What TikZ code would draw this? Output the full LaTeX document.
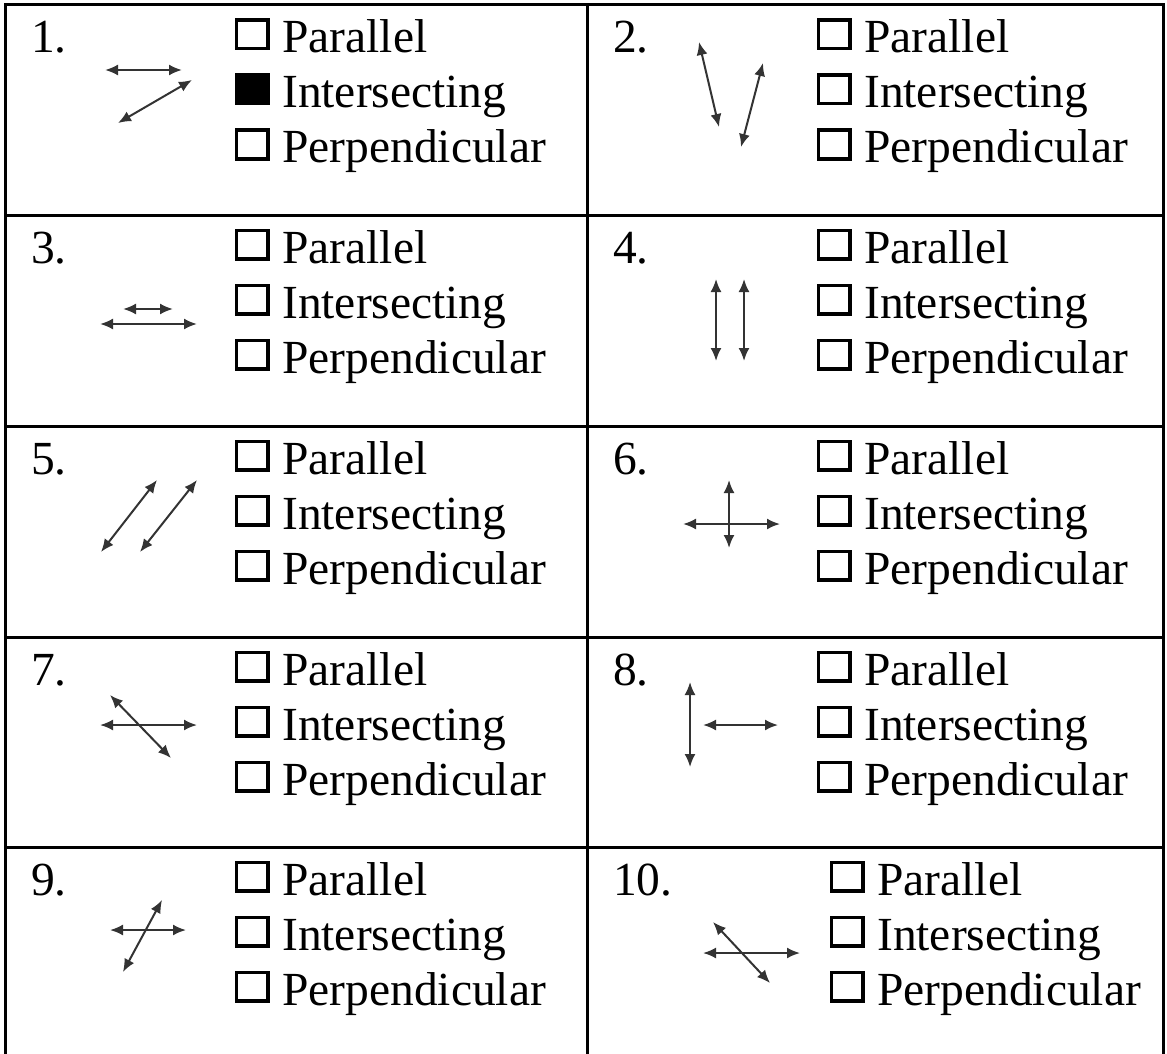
\documentclass[tikz,border=0pt]{standalone}
\usepackage{fontspec}
\setmainfont{Liberation Serif}
\usetikzlibrary{arrows.meta}

\begin{document}
\begin{tikzpicture}[x=1pt,y=-1pt,>={Latex[length=13pt,width=11pt]},
  grid/.style={line width=3pt,black},
  tick/.style={draw,line width=3.5pt,minimum width=31.5pt,minimum height=28.5pt,inner sep=0pt,anchor=south west},
  opt/.style={anchor=base west,inner sep=0pt,font=\fontsize{47.5}{55}\selectfont},
  ln/.style={<->,line width=2pt,black!80}]
  \useasboundingbox (0,0) rectangle (1167,1054);
  % table lines
  \draw[grid] (5,1054) -- (5,5) -- (1163,5) -- (1163,1054);
  \draw[grid] (587,5) -- (587,1054);
  \foreach \y in {215,426,637,847} \draw[grid] (5,\y) -- (1163,\y);
  % numbers, boxes and choices
  \foreach \cx/\cy/\num/\dx [count=\k] in {5/5/1./0,587/5/2./0,5/215/3./0,587/215/4./0,
      5/426/5./0,587/426/6./0,5/637/7./0,587/637/8./0,5/847/9./0,587/847/10./13}{
    \begin{scope}[shift={(\cx,\cy)}]
      \node[opt] (n\k) at (26,48) {\num};
      \foreach \t/\b [count=\j] in {Parallel/48,Intersecting/103,Perpendicular/158}{
        \node[tick] (b\k-\j) at (229.5+\dx,\b-2.5) {};
        \node[opt] (t\k-\j) at (277+\dx,\b) {\t};
      }
    \end{scope}
  }
  \fill[black] (b1-2.south west) rectangle (b1-2.north east);
  % line pairs
  \draw[ln] (105,70) -- (182,70);
  \draw[ln] (118,123) -- (192,80);
  \draw[ln] (699,42) -- (719,127);
  \draw[ln] (741,147) -- (763,63);
  \draw[ln] (123,309) -- (173,309);
  \draw[ln] (100,324) -- (197,324);
  \draw[ln] (716,279) -- (716,361);
  \draw[ln] (744,279) -- (744,361);
  \draw[ln] (101,552) -- (157,480);
  \draw[ln] (140,552) -- (197,480);
  \draw[ln] (683,524) -- (780,524);
  \draw[ln] (729,480) -- (729,548);
  \draw[ln] (100,725) -- (197,725);
  \draw[ln] (110,695) -- (171,758);
  \draw[ln] (690,682) -- (690,767);
  \draw[ln] (703,725) -- (778,725);
  \draw[ln] (110,930) -- (186,930);
  \draw[ln] (123,972) -- (162,900);
  \draw[ln] (703,953) -- (800,953);
  \draw[ln] (713,922) -- (770,983);
\end{tikzpicture}
\end{document}
